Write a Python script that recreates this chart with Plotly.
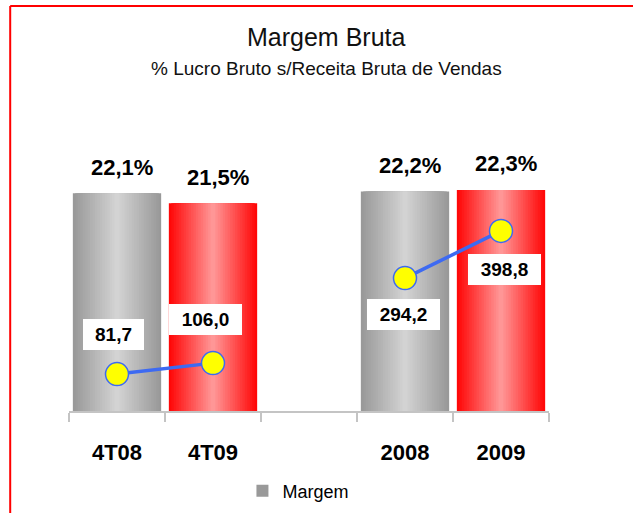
import plotly.graph_objects as go

# ---------------- data ----------------
categories = ["4T08", "4T09", " ", "2008", "2009"]
margem_pct = [22.1, 21.5, None, 22.2, 22.3]
margem_labels = ["22,1%", "21,5%", "", "22,2%", "22,3%"]
lucro_bruto = [81.7, 106.0, None, 294.2, 398.8]
lucro_labels = ["81,7", "106,0", "", "294,2", "398,8"]
series_name = "Margem"
title_text = "Margem Bruta"
subtitle_text = "% Lucro Bruto s/Receita Bruta de Vendas"

# ---------------- styles ----------------
ARIAL = "Liberation Sans, Arial, sans-serif"
bar_kind = ["gray", "red", "gray", "gray", "red"]
edge = {"gray": (153, 153, 153), "red": (255, 8, 8)}
center = {"gray": (214, 214, 214), "red": (255, 158, 158)}
line_color = "#3d6af2"


def mix(a, b, t):
    return "rgb(%d,%d,%d)" % tuple(round(a[k] + (b[k] - a[k]) * t) for k in range(3))


fig = go.Figure()

N = 18
BAR_W = 0.92
for i in range(N):
    frac = 1 - i / N
    t = i / N
    colors = [mix(edge[k], center[k], t) for k in bar_kind]
    fig.add_trace(go.Bar(
        x=categories, y=margem_pct, width=BAR_W * frac,
        marker=dict(color=colors, line=dict(width=0)),
        name=series_name, showlegend=(i == 0), hoverinfo="skip" if i else None,
    ))

fig.add_trace(go.Scatter(
    x=categories, y=lucro_bruto, yaxis="y2", mode="lines+markers",
    line=dict(color=line_color, width=3.5),
    marker=dict(size=23, color="#ffff00", line=dict(color=line_color, width=1.5)),
    connectgaps=False, showlegend=False,
))

annotations = []
# percentage labels above bars (x given as category index)
for idx, (v, lab) in enumerate(zip(margem_pct, margem_labels)):
    if v is None:
        continue
    annotations.append(dict(
        x=idx, y=v, xref="x", yref="y", text=lab, showarrow=False,
        yanchor="middle", yshift=26, xshift=5,
        font=dict(family=ARIAL, size=22, color="black", weight="bold"),
    ))

# value labels for the line
line_offsets = [40, 44, 0, -36, -39]
line_xshift = [-4, -8, 0, -2, 3]
for idx, (v, lab) in enumerate(zip(lucro_bruto, lucro_labels)):
    if v is None:
        continue
    annotations.append(dict(
        x=idx, y=v, xref="x", yref="y2", text=lab, showarrow=False,
        yanchor="middle", yshift=line_offsets[idx], xshift=line_xshift[idx],
        bgcolor="white", borderpad=0, borderwidth=0,
        width=12 * len(lab) + 13, height=31,
        font=dict(family=ARIAL, size=19, color="black", weight="bold"),
    ))

# titles
annotations.append(dict(
    x=0.536, y=1.38, xref="paper", yref="paper", text=title_text, showarrow=False,
    yanchor="middle", font=dict(family=ARIAL, size=25, color="#111111"),
))
annotations.append(dict(
    x=0.536, y=1.262, xref="paper", yref="paper", text=subtitle_text, showarrow=False,
    yanchor="middle", font=dict(family=ARIAL, size=19, color="#111111"),
))

shapes = [
    dict(type="line", xref="paper", yref="paper", x0=-0.1225, x1=1.3, y0=1.4945, y1=1.4945,
         line=dict(color="#ff0000", width=2)),
    dict(type="line", xref="paper", yref="paper", x0=-0.1225, x1=-0.1225, y0=1.4945, y1=-0.5,
         line=dict(color="#ff0000", width=2)),
]

fig.update_layout(
    template="none",
    width=633, height=513, autosize=False,
    margin=dict(l=69, r=84, t=140, b=102, autoexpand=False),
    paper_bgcolor="white", plot_bgcolor="white",
    barmode="overlay",
    annotations=annotations, shapes=shapes,
    xaxis=dict(
        type="category", range=[-0.5, 4.5], showgrid=False, zeroline=False, automargin=False,
        showline=True, linecolor="#c4c4c4", linewidth=2,
        ticks="outside", tickson="boundaries", ticklen=9, tickwidth=1.5, tickcolor="#c4c4c4",
        tickfont=dict(family=ARIAL, size=22, color="black", weight="bold"),
        ticklabelstandoff=21,
    ),
    yaxis=dict(range=[9.0, 25.3], visible=False, automargin=False),
    yaxis2=dict(range=[0, 600], overlaying="y", visible=False, automargin=False),
    legend=dict(
        orientation="h", x=0.478, xanchor="center", xref="paper",
        y=1 - 491 / 513, yanchor="middle", yref="container",
        font=dict(family=ARIAL, size=18, color="black"),
    ),
    showlegend=True,
)

fig.write_html(
    "out.html",
    config={"displayModeBar": False},
    post_script="document.body.style.margin='0';",
)
